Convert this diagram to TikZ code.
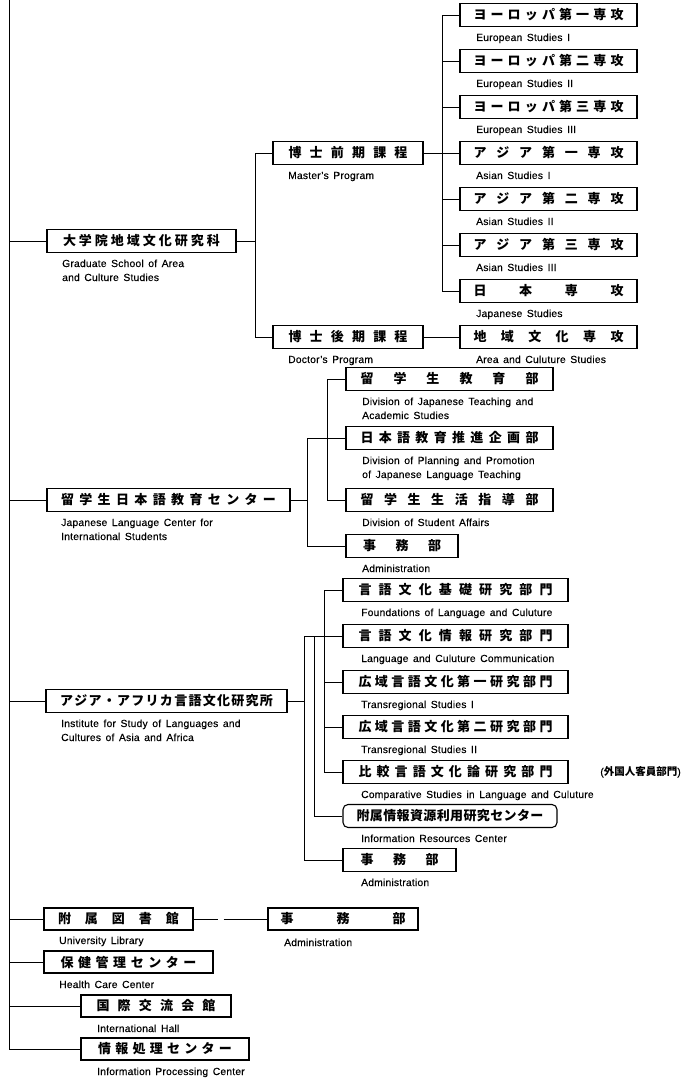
\documentclass[tikz,border=0pt]{standalone}
\usepackage{fontspec}
\setmainfont{Liberation Sans}[WordSpace=1.5, LetterSpace=2, FakeBold=0.3]
\newfontfamily\jp{Noto Sans CJK JP}
\makeatletter
\newcommand\spr[2]{\makebox[#1][s]{\jp\bfseries\fontsize{13}{13}\selectfont\let\sp@f\relax\@tfor\sp@c:=#2\do{\sp@f\sp@c\def\sp@f{\hfil}}}}
\makeatother
\begin{document}
\begin{tikzpicture}[x=1pt,y=-1pt,
  bx/.style={draw, line width=1.1pt, minimum height=23pt, inner sep=0pt},
  lbl/.style={anchor=base west, inner sep=0pt, font=\fontsize{10.3}{14}\selectfont, align=left},
  ln/.style={line width=0.8pt}]
\useasboundingbox (0,0) rectangle (683,1083);
% main line
\coordinate (mtop) at (9,0);
\coordinate (mbot) at (9,1049);
\draw[ln] (mtop) -- (mbot);

% ---------- Graduate school ----------
\node[bx, minimum width=189pt] (gs) at (141.5,241) {\spr{157pt}{大学院地域文化研究科}};
\node[lbl] (gsl) at (62,281) {Graduate School of Area\\and Culture Studies};
\node[bx, minimum width=150pt] (mp) at (348,153) {\spr{119pt}{博士前期課程}};
\node[lbl] (mpl) at (288,179) {Master's Program};
\node[bx, minimum width=150pt] (dp) at (348,337) {\spr{119pt}{博士後期課程}};
\node[lbl] (dpl) at (288,363) {Doctor's Program};

\node[bx, minimum width=177pt] (e1) at (548.5,15) {\spr{150pt}{ヨーロッパ第一専攻}};
\node[lbl] (e1l) at (476,41) {European Studies I};
\node[bx, minimum width=177pt] (e2) at (548.5,61) {\spr{150pt}{ヨーロッパ第二専攻}};
\node[lbl] (e2l) at (476,87) {European Studies II};
\node[bx, minimum width=177pt] (e3) at (548.5,107) {\spr{150pt}{ヨーロッパ第三専攻}};
\node[lbl] (e3l) at (476,133) {European Studies III};
\node[bx, minimum width=177pt] (a1) at (548.5,153) {\spr{150pt}{アジア第一専攻}};
\node[lbl] (a1l) at (476,179) {Asian Studies I};
\node[bx, minimum width=177pt] (a2) at (548.5,199) {\spr{150pt}{アジア第二専攻}};
\node[lbl] (a2l) at (476,225) {Asian Studies II};
\node[bx, minimum width=177pt] (a3) at (548.5,245) {\spr{150pt}{アジア第三専攻}};
\node[lbl] (a3l) at (476,271) {Asian Studies III};
\node[bx, minimum width=177pt] (js) at (548.5,291) {\spr{150pt}{日本専攻}};
\node[lbl] (jsl) at (476,317) {Japanese Studies};
\node[bx, minimum width=177pt] (ac) at (548.5,337) {\spr{150pt}{地域文化専攻}};
\node[lbl] (acl) at (476,363) {Area and Culuture Studies};

\draw[ln] (mtop |- gs.west) -- (gs.west);
\coordinate (v1t) at (255,153);
\coordinate (v1b) at (255,337);
\draw[ln] (gs.east) -- (gs.east -| v1t);
\draw[ln] (mp.west) -- (v1t) -- (v1b) -- (dp.west);
\draw[ln] (dp.east) -- (ac.west);
\coordinate (v2t) at (442,15);
\coordinate (v2b) at (442,291);
\draw[ln] (mp.east) -- (a1.west);
\draw[ln] (e1.west) -- (v2t) -- (v2b) -- (js.west);
\foreach \n in {e2,e3,a2,a3}{\draw[ln] (v2t |- \n.west) -- (\n.west);}

% ---------- Japanese Language Center ----------
\node[bx, minimum width=243pt] (jlc) at (168.5,500) {\spr{215pt}{留学生日本語教育センター}};
\node[lbl] (jlcl) at (61,540) {Japanese Language Center for\\International Students};
\node[bx, minimum width=207pt] (j1) at (449.5,379) {\spr{178pt}{留学生教育部}};
\node[lbl] (j1l) at (362,419) {Division of Japanese Teaching and\\Academic Studies};
\node[bx, minimum width=207pt] (j2) at (449.5,438) {\spr{178pt}{日本語教育推進企画部}};
\node[lbl] (j2l) at (362,478) {Division of Planning and Promotion\\of Japanese Language Teaching};
\node[bx, minimum width=207pt] (j3) at (449.5,500) {\spr{178pt}{留学生生活指導部}};
\node[lbl] (j3l) at (362,526) {Division of Student Affairs};
\node[bx, minimum width=112pt] (j4) at (402,546) {\spr{78pt}{事務部}};
\node[lbl] (j4l) at (362,572) {Administration};

\draw[ln] (mtop |- jlc.west) -- (jlc.west);
\coordinate (w1t) at (307,438);
\coordinate (w1b) at (307,546);
\draw[ln] (jlc.east) -- (jlc.east -| w1t);
\draw[ln] (j2.west) -- (w1t) -- (w1b) -- (j4.west);
\coordinate (w2t) at (327,379);
\coordinate (w2b) at (327,500);
\draw[ln] (j1.west) -- (w2t) -- (w2b) -- (j3.west);

% ---------- ILCAA ----------
\node[bx, minimum width=241pt] (aa) at (166.5,701) {\spr{213pt}{アジア・アフリカ言語文化研究所}};
\node[lbl] (aal) at (61,741) {Institute for Study of Languages and\\Cultures of Asia and Africa};
\node[bx, minimum width=225pt] (k1) at (455.5,590) {\spr{194pt}{言語文化基礎研究部門}};
\node[lbl] (k1l) at (361,616) {Foundations of Language and Culuture};
\node[bx, minimum width=225pt] (k2) at (455.5,636) {\spr{194pt}{言語文化情報研究部門}};
\node[lbl] (k2l) at (361,662) {Language and Culuture Communication};
\node[bx, minimum width=225pt] (k3) at (455.5,682) {\spr{194pt}{広域言語文化第一研究部門}};
\node[lbl] (k3l) at (361,708) {Transregional Studies I};
\node[bx, minimum width=225pt] (k4) at (455.5,727) {\spr{194pt}{広域言語文化第二研究部門}};
\node[lbl] (k4l) at (361,753) {Transregional Studies II};
\node[bx, minimum width=225pt] (k5) at (455.5,772) {\spr{194pt}{比較言語文化論研究部門}};
\node[lbl] (k5l) at (361,798) {Comparative Studies in Language and Culuture};
\node[anchor=east, inner sep=0pt, font=\fontsize{10.5}{12}\selectfont] (k5n) at (681,772) {({\jp\bfseries 外国人客員部門})};
\node[bx, rounded corners=5pt, minimum width=214pt] (k6) at (450,816) {\spr{187pt}{附属情報資源利用研究センター}};
\node[lbl] (k6l) at (361,842) {Information Resources Center};
\node[bx, minimum width=113pt] (k7) at (399.5,860) {\spr{78pt}{事務部}};
\node[lbl] (k7l) at (361,886) {Administration};

\draw[ln] (mtop |- aa.west) -- (aa.west);
\coordinate (u1t) at (304,636);
\coordinate (u1b) at (304,860);
\draw[ln] (aa.east) -- (aa.east -| u1t);
\draw[ln] (k2.west) -- (u1t) -- (u1b) -- (k7.west);
\coordinate (u2t) at (314,636);
\coordinate (u2b) at (314,816);
\draw[ln] (u2t) -- (u2b) -- (k6.west);
\coordinate (u3t) at (324,590);
\coordinate (u3b) at (324,772);
\draw[ln] (k1.west) -- (u3t) -- (u3b) -- (k5.west);
\foreach \n in {k3,k4}{\draw[ln] (u3t |- \n.west) -- (\n.west);}

% ---------- bottom group ----------
\node[bx, minimum height=22pt, minimum width=149pt] (lib) at (118.5,919) {\spr{121pt}{附属図書館}};
\node[lbl] (libl) at (59,944) {University Library};
\node[bx, minimum height=22pt, minimum width=150pt] (la) at (343,919) {\spr{125pt}{事務部}};
\node[lbl] (lal) at (284,946) {Administration};
\node[bx, minimum height=22pt, minimum width=169pt] (hc) at (128.5,962) {\spr{136pt}{保健管理センター}};
\node[lbl] (hcl) at (59,988) {Health Care Center};
\node[bx, minimum height=22pt, minimum width=150pt] (ih) at (156,1006) {\spr{119pt}{国際交流会館}};
\node[lbl] (ihl) at (97,1032) {International Hall};
\node[bx, minimum height=22pt, minimum width=168pt] (ipc) at (165,1049) {\spr{134pt}{情報処理センター}};
\node[lbl] (ipcl) at (97,1075) {Information Processing Center};

\foreach \n in {lib,hc,ih,ipc}{\draw[ln] (mtop |- \n.west) -- (\n.west);}
\draw[ln, dash pattern=on 24pt off 6pt on 60pt] (lib.east) -- (la.west);
\end{tikzpicture}
\end{document}
